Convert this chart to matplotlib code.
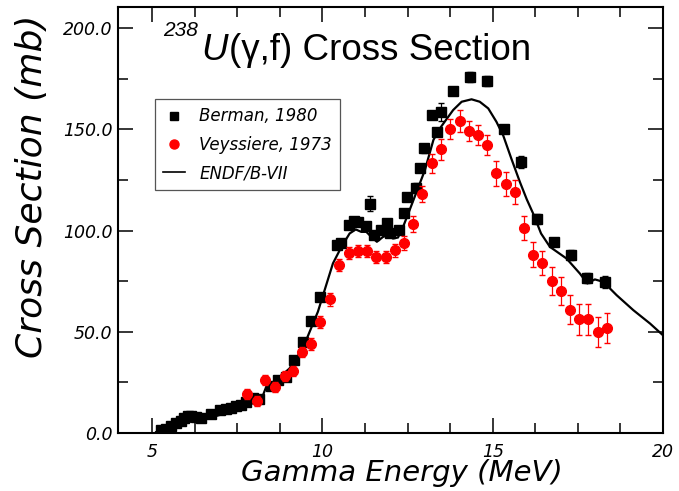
import matplotlib.pyplot as plt
from matplotlib.ticker import MultipleLocator, FormatStrFormatter
from matplotlib.lines import Line2D

# Berman, 1980 (black squares)
berman_e = [5.27, 5.41, 5.56, 5.70, 5.85, 5.95, 6.05, 6.15, 6.29, 6.44,
            6.73, 6.98, 7.18, 7.32, 7.47, 7.62, 7.76, 7.96, 8.15, 8.50,
            8.70, 8.94, 9.18, 9.43, 9.67, 9.92, 10.42, 10.56, 10.78, 10.92,
            11.04, 11.27, 11.39, 11.53, 11.73, 11.90, 12.00, 12.25, 12.39, 12.49,
            12.75, 12.86, 12.98, 13.23, 13.37, 13.47, 13.84, 14.33, 14.84, 15.32,
            15.82, 16.31, 16.80, 17.29, 17.78, 18.30]
berman_xs = [1.3, 2.2, 3.3, 4.8, 5.8, 7.6, 8.3, 8.3, 7.9, 7.6,
             9.6, 11.6, 12.1, 12.4, 13.2, 14.0, 15.3, 17.5, 17.0, 23.1,
             26.4, 27.7, 36.0, 45.0, 55.4, 67.3, 92.8, 93.7, 102.7, 104.9,
             104.4, 102.2, 113.4, 97.8, 100.2, 103.9, 98.6, 100.2, 108.5, 116.5,
             121.3, 130.8, 140.6, 157.1, 148.9, 158.8, 169.0, 176.1, 174.1, 150.1,
             133.8, 105.8, 94.5, 87.9, 76.4, 74.7]
berman_err = [0.5, 0.5, 0.5, 0.5, 0.5, 0.5, 0.5, 0.5, 0.5, 0.5,
              0.5, 0.5, 0.5, 0.5, 0.5, 0.5, 0.5, 0.5, 0.5, 0.8,
              0.8, 0.8, 1.0, 1.0, 1.0, 1.0, 1.0, 1.0, 1.5, 1.5,
              1.5, 1.5, 3.5, 1.5, 1.5, 2.0, 1.5, 1.5, 2.0, 2.0,
              2.0, 2.0, 2.0, 2.0, 2.0, 4.5, 2.0, 2.5, 2.5, 2.0,
              3.0, 2.5, 2.0, 2.5, 2.5, 3.0]

# Veyssiere, 1973 (red circles)
vey_e = [7.80, 8.07, 8.31, 8.60, 8.90, 9.13, 9.40, 9.67, 9.94, 10.22,
         10.50, 10.77, 11.04, 11.31, 11.58, 11.86, 12.12, 12.40, 12.66, 12.93,
         13.22, 13.49, 13.76, 14.03, 14.30, 14.57, 14.84, 15.11, 15.38, 15.65,
         15.92, 16.19, 16.46, 16.73, 17.00, 17.27, 17.54, 17.80, 18.08, 18.36]
vey_xs = [19.3, 16.0, 26.1, 22.8, 28.0, 30.6, 40.1, 44.0, 55.0, 66.0,
          82.9, 89.0, 90.0, 90.0, 86.8, 87.0, 90.2, 93.8, 103.2, 118.0,
          133.2, 140.1, 150.2, 154.2, 149.2, 147.2, 142.3, 128.3, 123.2, 119.2,
          101.2, 88.2, 84.1, 75.0, 70.1, 61.0, 56.1, 56.1, 50.0, 52.0]
vey_err = [2.5, 2.5, 2.5, 2.5, 2.5, 2.5, 2.5, 3.0, 3.0, 3.0,
           3.0, 3.0, 3.0, 3.0, 3.0, 3.0, 3.0, 3.5, 4.0, 4.0,
           4.5, 5.0, 5.0, 5.5, 5.0, 5.0, 5.0, 6.0, 6.0, 6.0,
           6.0, 6.0, 6.0, 7.0, 7.0, 7.0, 7.5, 7.5, 7.5, 7.5]

# ENDF/B-VII evaluation (solid line)
endf_e = [5.12, 5.5, 5.9, 6.3, 6.6, 7.0, 7.57, 7.9, 8.18, 8.35,
          8.7, 9.03, 9.43, 9.87, 10.31, 10.56, 10.8, 10.98, 11.14, 11.29,
          11.44, 11.6, 11.78, 11.93, 12.07, 12.22, 12.37, 12.56, 12.71, 12.86,
          13.01, 13.26, 13.45, 13.59, 13.84, 14.09, 14.38, 14.62, 14.87, 15.11,
          15.31, 15.55, 15.80, 16.0, 16.2, 16.42, 16.68, 17.17, 17.56, 17.78,
          18.0, 18.25, 18.64, 19.13, 19.62, 20.0]
endf_xs = [0.5, 2.5, 5.0, 6.0, 7.0, 9.0, 12.5, 14.5, 15.3, 22.8,
           27.0, 31.8, 42.0, 60.0, 83.8, 92.0, 98.6, 100.6, 99.4, 99.4,
           96.9, 94.5, 96.9, 97.8, 96.1, 96.6, 101.9, 110.1, 116.7, 123.3,
           129.9, 144.8, 150.5, 153.8, 159.6, 163.7, 164.9, 163.7, 160.4, 153.8,
           147.0, 135.5, 124.0, 115.5, 108.0, 98.6, 92.0, 86.2, 78.8, 73.9,
           75.9, 74.7, 68.1, 60.7, 54.1, 48.3]

fig = plt.figure(figsize=(6.79, 4.91), dpi=100)
ax = fig.add_axes([0.1738, 0.1181, 0.8026, 0.8676])

ax.plot(endf_e, endf_xs, color='black', lw=1.6, zorder=2)
ax.errorbar(berman_e, berman_xs, yerr=berman_err, fmt='s', color='black',
            ms=6.8, ecolor='black', elinewidth=0.9, capsize=2.2, zorder=3)
ax.errorbar(vey_e, vey_xs, yerr=vey_err, fmt='o', color='red', mec='red',
            ms=7, ecolor='red', elinewidth=0.9, capsize=2.2, zorder=4)

ax.set_xlim(4, 20)
ax.set_ylim(0, 210.5)
ax.xaxis.set_major_locator(MultipleLocator(5))
ax.xaxis.set_minor_locator(MultipleLocator(1.25))
ax.yaxis.set_major_locator(MultipleLocator(50))
ax.yaxis.set_minor_locator(MultipleLocator(25))
ax.yaxis.set_major_formatter(FormatStrFormatter('%.1f'))

for s in ax.spines.values():
    s.set_linewidth(1.5)
ax.tick_params(which='both', direction='in', top=True, right=True, width=1.1)
ax.tick_params(which='major', length=11)
ax.tick_params(which='minor', length=7.5)
ax.tick_params(axis='y', pad=4)
ax.tick_params(axis='x', pad=7)
for lbl in ax.get_xticklabels() + ax.get_yticklabels():
    lbl.set_fontstyle('italic')
    lbl.set_fontsize(12.5)

fig.text(0.047, 0.621, 'Cross Section (mb)', rotation=90, ha='center', va='center',
         fontsize=26, fontstyle='italic')
fig.text(0.592, 0.020, 'Gamma Energy (MeV)', ha='center', va='baseline',
         fontsize=21, fontstyle='italic')

# title inside the frame
fig.text(0.240, 0.927, '238', fontsize=15, fontstyle='italic',
         family='Liberation Sans', va='baseline')
fig.text(0.297, 0.878, 'U', fontsize=26.5, fontstyle='italic',
         family='Liberation Sans', va='baseline')
fig.text(0.337, 0.877, '(γ,f) Cross Section', fontsize=26.5,
         family='Liberation Sans', va='baseline')

handles = [Line2D([], [], ls='none', marker='s', color='black', ms=6),
           Line2D([], [], ls='none', marker='o', color='red', ms=6.5),
           Line2D([], [], color='black', lw=1.2)]
labels = ['Berman, 1980', 'Veyssiere, 1973', 'ENDF/B-VII']
leg = ax.legend(handles, labels, loc='upper left', bbox_to_anchor=(0.068, 0.784),
                borderaxespad=0, fancybox=False, framealpha=1, edgecolor='#555555',
                prop={'style': 'italic', 'size': 12}, handlelength=1.3,
                handletextpad=0.85, labelspacing=0.62, borderpad=0.5)
leg.get_frame().set_linewidth(0.9)

fig.savefig('out.png', dpi=100)
